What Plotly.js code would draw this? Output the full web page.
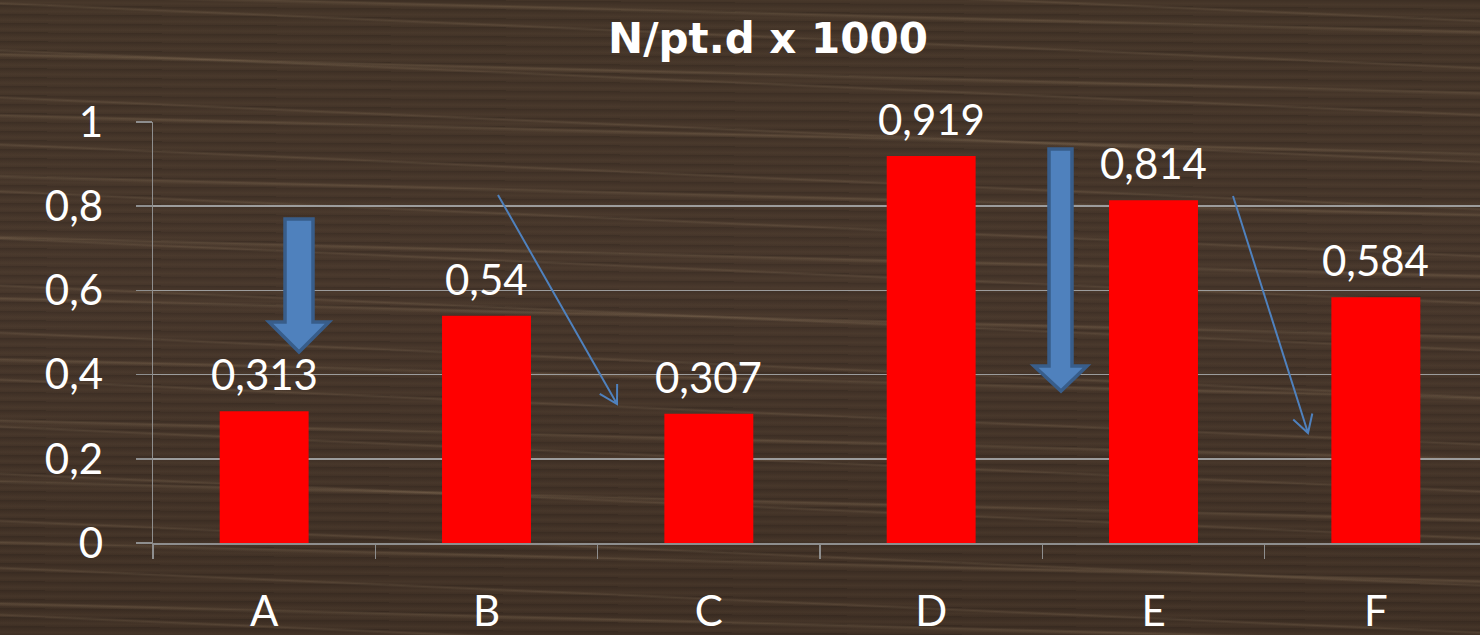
<!DOCTYPE html>
<html>
<head>
<meta charset="utf-8">
<script src="https://cdn.plot.ly/plotly-3.0.1.min.js"></script>
<style>
html, body { margin:0; padding:0; overflow:hidden; width:1480px; height:635px; }
body {
  background-color:#3f3024;
  background-image:
    repeating-linear-gradient(181.5deg, rgba(0,0,0,0) 0px, rgba(0,0,0,0) 30px, rgba(205,175,135,0.16) 32px, rgba(0,0,0,0) 35px, rgba(0,0,0,0) 61px),
    repeating-linear-gradient(182.5deg, rgba(0,0,0,0) 0px, rgba(0,0,0,0) 19px, rgba(215,185,145,0.12) 21px, rgba(0,0,0,0) 23px, rgba(0,0,0,0) 47px),
    repeating-linear-gradient(180.5deg, rgba(0,0,0,0.10) 0px, rgba(0,0,0,0) 3px, rgba(110,88,66,0.14) 6px, rgba(0,0,0,0) 9px),
    linear-gradient(180deg, #423327 0%, #45352a 45%, #3e2f24 100%);
}
#chart { width:1487px; height:635px; }
</style>
</head>
<body>
<div id="chart"></div>
<script>
// ---- data ----
const categories = ['A', 'B', 'C', 'D', 'E', 'F'];
const values = [0.313, 0.54, 0.307, 0.919, 0.814, 0.584];
const valueLabels = ['0,313', '0,54', '0,307', '0,919', '0,814', '0,584'];
const yTickValues = [0, 0.2, 0.4, 0.6, 0.8, 1];
const yTickLabels = ['0', '0,2', '0,4', '0,6', '0,8', '1'];
const titleText = 'N/pt.d x 1000';

// ---- layout geometry (pixels) ----
const W = 1487, H = 635;
const ML = 153, MR = 0, MT = 122, MB = 92;
const PW = W - ML - MR, PH = H - MT - MB;
function px(x) { return (x - ML) / PW; }
function py(y) { return (MT + PH - y) / PH; }
function P(x, y) { return px(x).toFixed(5) + ',' + py(y).toFixed(5); }

const FONT = 'Lato, "Open Sans", sans-serif';
const AX = '#8e8e8e';
const BLUE = '#4f81bd', BLUE_D = '#385d8a';

function blockArrow(x1, x2, top, hx1, hx2, hy, tipx, tipy) {
  return {
    type: 'path', xref: 'paper', yref: 'paper', layer: 'above',
    path: 'M' + P(x1, top) + 'L' + P(x2, top) + 'L' + P(x2, hy) + 'L' + P(hx2, hy) +
          'L' + P(tipx, tipy) + 'L' + P(hx1, hy) + 'L' + P(x1, hy) + 'Z',
    fillcolor: BLUE, line: { color: BLUE_D, width: 3.5 }
  };
}
function thinArrow(x0, y0, x1, y1) {
  const dx = x1 - x0, dy = y1 - y0, L = Math.hypot(dx, dy);
  const ux = -dx / L, uy = -dy / L, hl = 20, a = Math.PI / 6;
  const c = Math.cos(a), s = Math.sin(a);
  const h1x = x1 + hl * (ux * c - uy * s), h1y = y1 + hl * (ux * s + uy * c);
  const h2x = x1 + hl * (ux * c + uy * s), h2y = y1 + hl * (-ux * s + uy * c);
  return {
    type: 'path', xref: 'paper', yref: 'paper', layer: 'above',
    path: 'M' + P(x0, y0) + 'L' + P(x1, y1) + 'M' + P(h1x, h1y) + 'L' + P(x1, y1) + 'L' + P(h2x, h2y),
    line: { color: BLUE, width: 2 }
  };
}

const shapes = [
  blockArrow(285, 313, 219, 269, 329, 322, 299, 352),
  blockArrow(1049, 1072, 149, 1034, 1087, 366, 1061, 391),
  thinArrow(498, 195, 617, 404),
  thinArrow(1233, 196, 1308, 433)
];

const annotations = categories.map((c, i) => ({
  x: c, y: values[i], xref: 'x', yref: 'y',
  text: valueLabels[i], showarrow: false,
  yanchor: 'bottom', yshift: 10,
  font: { family: FONT, size: 42, color: '#ffffff' }
}));

const trace = {
  type: 'bar', x: categories, y: values,
  marker: { color: '#ff0000' },
  hoverinfo: 'skip'
};

const layout = {
  width: W, height: H,
  margin: { l: ML, r: MR, t: MT, b: MB, pad: 0 },
  paper_bgcolor: 'rgba(0,0,0,0)', plot_bgcolor: 'rgba(0,0,0,0)',
  separators: ', ',
  bargap: 0.6,
  showlegend: false,
  title: {
    text: titleText, xref: 'container', yref: 'container',
    x: 768 / W, xanchor: 'center', y: 1 - 38 / H, yanchor: 'middle',
    font: { family: '"DejaVu Sans", sans-serif', size: 42, color: '#ffffff', weight: 'bold' }
  },
  xaxis: {
    type: 'category', tickson: 'boundaries', ticks: 'outside', ticklen: 14,
    tickcolor: AX, tickwidth: 1.5, showline: true, linecolor: AX, linewidth: 1.5,
    showgrid: false, ticklabelstandoff: 31,
    tickfont: { family: FONT, size: 42, color: '#ffffff' }
  },
  yaxis: {
    range: [0, 1], tickvals: yTickValues, ticktext: yTickLabels,
    ticks: 'outside', ticklen: 16, tickcolor: AX, tickwidth: 1.5,
    showline: true, linecolor: AX, linewidth: 1.5,
    showgrid: true, gridcolor: '#9c9c9c', gridwidth: 1.5, zeroline: false,
    ticklabelstandoff: 24,
    tickfont: { family: FONT, size: 42, color: '#ffffff' }
  },
  shapes: shapes,
  annotations: annotations
};

Plotly.newPlot('chart', [trace], layout, { displayModeBar: false, staticPlot: true });
</script>
</body>
</html>
